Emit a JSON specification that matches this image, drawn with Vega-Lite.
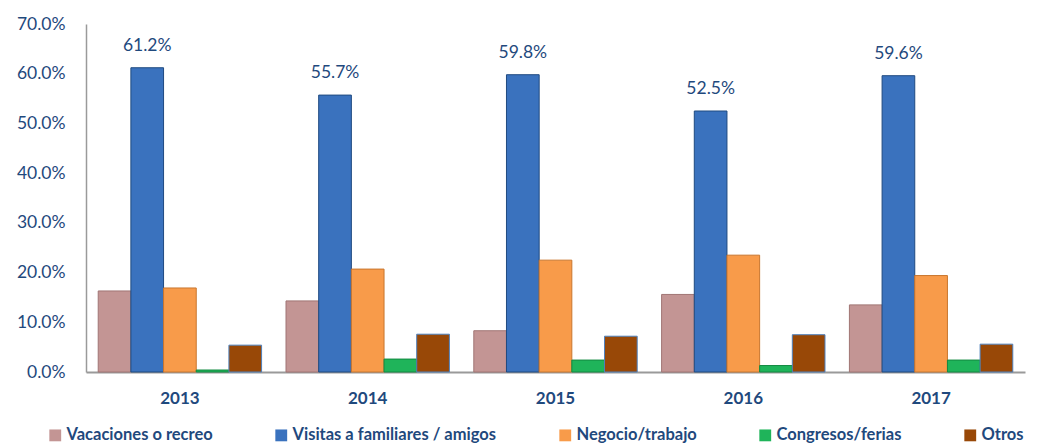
{
  "$schema": "https://vega.github.io/schema/vega-lite/v6.json",
  "autosize": {"type": "none"},
  "width": 939,
  "height": 348,
  "padding": {"left": 86, "top": 24, "right": 24, "bottom": 75},
  "background": "white",
  "config": {
    "view": {"stroke": null},
    "font": "Lato"
  },
  "data": {
    "values": [
      {"year": "2013", "motivo": "Vacaciones o recreo", "valor": 0.163},
      {"year": "2013", "motivo": "Visitas a familiares / amigos", "valor": 0.612},
      {"year": "2013", "motivo": "Negocio/trabajo", "valor": 0.169},
      {"year": "2013", "motivo": "Congresos/ferias", "valor": 0.004},
      {"year": "2013", "motivo": "Otros", "valor": 0.054},
      {"year": "2014", "motivo": "Vacaciones o recreo", "valor": 0.143},
      {"year": "2014", "motivo": "Visitas a familiares / amigos", "valor": 0.557},
      {"year": "2014", "motivo": "Negocio/trabajo", "valor": 0.207},
      {"year": "2014", "motivo": "Congresos/ferias", "valor": 0.026},
      {"year": "2014", "motivo": "Otros", "valor": 0.076},
      {"year": "2015", "motivo": "Vacaciones o recreo", "valor": 0.083},
      {"year": "2015", "motivo": "Visitas a familiares / amigos", "valor": 0.598},
      {"year": "2015", "motivo": "Negocio/trabajo", "valor": 0.225},
      {"year": "2015", "motivo": "Congresos/ferias", "valor": 0.024},
      {"year": "2015", "motivo": "Otros", "valor": 0.072},
      {"year": "2016", "motivo": "Vacaciones o recreo", "valor": 0.156},
      {"year": "2016", "motivo": "Visitas a familiares / amigos", "valor": 0.525},
      {"year": "2016", "motivo": "Negocio/trabajo", "valor": 0.235},
      {"year": "2016", "motivo": "Congresos/ferias", "valor": 0.013},
      {"year": "2016", "motivo": "Otros", "valor": 0.075},
      {"year": "2017", "motivo": "Vacaciones o recreo", "valor": 0.135},
      {"year": "2017", "motivo": "Visitas a familiares / amigos", "valor": 0.596},
      {"year": "2017", "motivo": "Negocio/trabajo", "valor": 0.194},
      {"year": "2017", "motivo": "Congresos/ferias", "valor": 0.024},
      {"year": "2017", "motivo": "Otros", "valor": 0.056}
    ]
  },
  "encoding": {
    "x": {
      "field": "year",
      "type": "nominal",
      "title": null,
      "scale": {"paddingInner": 0.13, "paddingOuter": 0.065},
      "axis": {
        "labelAngle": 0,
        "labelFont": "Lato",
        "labelFontSize": 17,
        "labelFontWeight": "bold",
        "labelColor": "#1F497D",
        "labelPadding": 18,
        "ticks": false,
        "domainColor": "#9a9a9a",
        "domainWidth": 2
      }
    },
    "xOffset": {
      "field": "motivo",
      "type": "nominal",
      "sort": ["Vacaciones o recreo", "Visitas a familiares / amigos", "Negocio/trabajo", "Congresos/ferias", "Otros"],
      "scale": {"paddingInner": 0, "paddingOuter": 0}
    },
    "y": {
      "field": "valor",
      "type": "quantitative",
      "title": null,
      "scale": {"domain": [0, 0.7]},
      "axis": {
        "format": ".1%",
        "values": [0, 0.1, 0.2, 0.3, 0.4, 0.5, 0.6, 0.7],
        "grid": false,
        "ticks": false,
        "labelFont": "Lato",
        "labelFontSize": 17.5,
        "labelColor": "#1F497D",
        "labelPadding": 21,
        "domainColor": "#9a9a9a",
        "domainWidth": 1.5
      }
    }
  },
  "layer": [
    {
      "mark": {"type": "bar", "strokeWidth": 1},
      "encoding": {
        "color": {
          "field": "motivo",
          "type": "nominal",
          "sort": ["Vacaciones o recreo", "Visitas a familiares / amigos", "Negocio/trabajo", "Congresos/ferias", "Otros"],
          "scale": {
            "domain": ["Vacaciones o recreo", "Visitas a familiares / amigos", "Negocio/trabajo", "Congresos/ferias", "Otros"],
            "range": ["#C39594", "#3A72BE", "#F89B4A", "#1FB45A", "#984807"]
          },
          "legend": {
            "title": null,
            "orient": "none",
            "direction": "horizontal",
            "legendX": -39,
            "legendY": 403,
            "symbolType": "square",
            "symbolSize": 140,
            "symbolStrokeWidth": 0,
            "labelFont": "Lato",
            "labelFontSize": 16.5,
            "labelFontWeight": "bold",
            "labelColor": "#1F497D",
            "labelLimit": 400,
            "columnPadding": 60,
            "labelOffset": 3
          }
        },
        "stroke": {
          "field": "motivo",
          "type": "nominal",
          "scale": {
            "domain": ["Vacaciones o recreo", "Visitas a familiares / amigos", "Negocio/trabajo", "Congresos/ferias", "Otros"],
            "range": ["#a07574", "#1f4a80", "#c9762e", "#138a40", "#4F81BD"]
          },
          "legend": null
        }
      }
    },
    {
      "transform": [{"filter": "datum.motivo === 'Visitas a familiares / amigos'"}],
      "mark": {
        "type": "text",
        "baseline": "bottom",
        "dy": -13,
        "font": "Lato",
        "fontSize": 17.5,
        "color": "#1F497D"
      },
      "encoding": {
        "text": {"field": "valor", "type": "quantitative", "format": ".1%"}
      }
    }
  ]
}
